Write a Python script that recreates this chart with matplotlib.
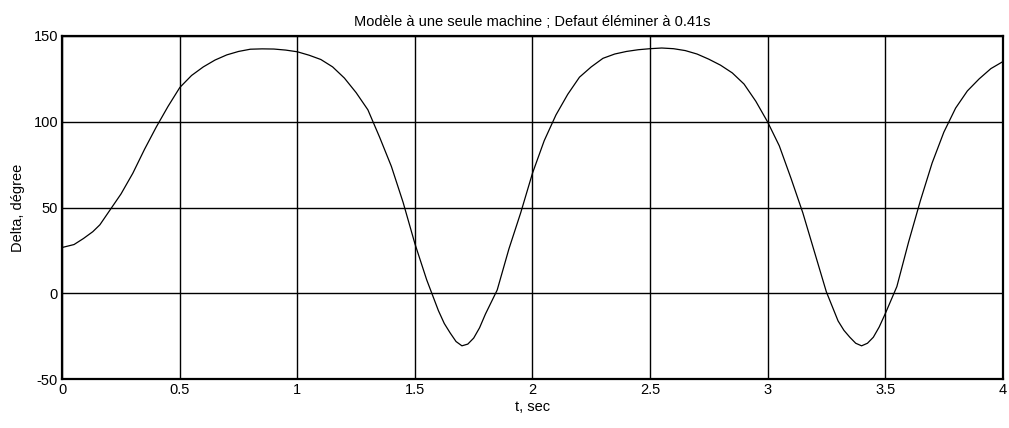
import matplotlib
matplotlib.use("Agg")
import matplotlib.pyplot as plt

plt.rcParams["font.family"] = ["Liberation Sans", "DejaVu Sans"]
plt.rcParams["axes.unicode_minus"] = False

# rotor angle response of the single-machine model
t_sec = [0.0, 0.05, 0.09, 0.13, 0.16, 0.2, 0.25, 0.3, 0.35, 0.4, 0.45, 0.5,
         0.55, 0.6, 0.65, 0.7, 0.75, 0.8, 0.85, 0.9, 0.95, 1.0, 1.05, 1.1,
         1.15, 1.2, 1.25, 1.3, 1.35, 1.4, 1.45, 1.5, 1.55, 1.6, 1.625, 1.65,
         1.675, 1.7, 1.725, 1.75, 1.775, 1.8, 1.85, 1.9, 1.95, 2.0, 2.05, 2.1,
         2.15, 2.2, 2.25, 2.3, 2.35, 2.4, 2.45, 2.5, 2.55, 2.6, 2.65, 2.7,
         2.75, 2.8, 2.85, 2.9, 2.95, 3.0, 3.05, 3.1, 3.15, 3.2, 3.25, 3.3,
         3.325, 3.35, 3.375, 3.4, 3.425, 3.45, 3.475, 3.5, 3.55, 3.6, 3.65, 3.7,
         3.75, 3.8, 3.85, 3.9, 3.95, 4.0]
delta_deg = [26.8, 28.5, 32, 36, 40, 48, 58, 70, 84, 97, 109, 120,
             127, 132, 136, 139, 141, 142.3, 142.5, 142.4, 141.8, 140.8, 138.8, 136.3,
             132, 125.5, 117, 107, 91, 74, 53, 29, 8, -10, -17.5, -23,
             -28, -30.5, -29.5, -26, -20, -12, 2, 26, 47, 70, 89, 104,
             116, 126, 132, 137, 139.5, 141, 142, 142.6, 143, 142.6, 141.5, 139.5,
             136.5, 133, 128.5, 122, 112, 100, 86, 67, 47, 24, 1, -16,
             -21.5, -25.5, -29, -30.5, -29, -25.5, -19.5, -12, 4, 30, 54, 76,
             94, 108, 118, 125, 131, 135]

x_ticks = [0, 0.5, 1, 1.5, 2, 2.5, 3, 3.5, 4]
x_tick_labels = ["0", "0.5", "1", "1.5", "2", "2.5", "3", "3.5", "4"]
y_ticks = [-50, 0, 50, 100, 150]

fig = plt.figure(figsize=(10.09, 4.28), dpi=100)
ax = fig.add_axes([0.0617, 0.1138, 0.932, 0.8021])

ax.plot(t_sec, delta_deg, color="black", linewidth=0.9)

ax.set_xlim(0, 4)
ax.set_ylim(-50, 150)
ax.set_xticks(x_ticks)
ax.set_xticklabels(x_tick_labels)
ax.set_yticks(y_ticks)
ax.grid(True, color="black", linewidth=1.0, linestyle="-")
ax.tick_params(direction="in", length=0, labelsize=10.5, pad=3)

for spine in ax.spines.values():
    spine.set_linewidth(1.6)
    spine.set_color("black")

ax.set_title("Modèle à une seule machine ; Defaut éléminer à 0.41s", fontsize=10.5, pad=7)
ax.set_xlabel("t, sec", fontsize=10.5, labelpad=2)
ax.set_ylabel("Delta, dégree", fontsize=10.5, labelpad=6)

fig.savefig("out.png", dpi=100)
